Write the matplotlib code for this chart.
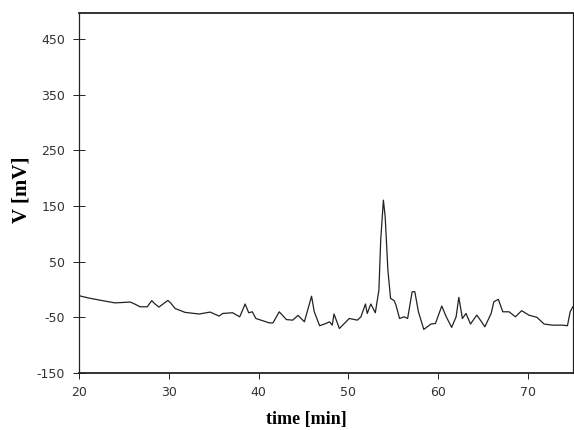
import numpy as np
import matplotlib
matplotlib.use('Agg')
import matplotlib.pyplot as plt

plt.rcParams['axes.unicode_minus'] = False

# chromatogram trace (time in min, signal in mV)
time = [20.0, 21.0, 22.3, 24.0, 25.7, 26.2, 26.8, 27.6, 28.1, 28.4, 28.9,
        29.9, 30.2, 30.7, 31.8, 33.4, 34.6, 35.6, 36.0, 37.1, 37.9, 38.5,
        38.9, 39.3, 39.7, 41.2, 41.6, 42.3, 43.1, 43.8, 44.4, 45.1, 45.9,
        46.2, 46.8, 47.5, 47.9, 48.2, 48.4, 49.0, 50.1, 51.0, 51.4, 51.9,
        52.1, 52.5, 53.0, 53.4, 53.6, 53.9, 54.1, 54.4, 54.7, 55.1, 55.3,
        55.7, 56.2, 56.6, 57.1, 57.4, 57.8, 58.4, 59.2, 59.7, 60.4, 60.9,
        61.5, 62.0, 62.3, 62.7, 63.1, 63.6, 64.3, 64.7, 65.2, 65.9, 66.2,
        66.7, 67.2, 67.9, 68.6, 69.3, 70.1, 71.0, 71.8, 72.7, 73.8, 74.4,
        74.7, 75.0]
signal = [-11, -15, -19, -24, -22.5, -26, -31, -31, -20, -25, -31.5,
          -19.5, -24, -34, -41, -44, -40.5, -47.7, -43, -41.7, -49, -26,
          -41.7, -40, -52, -60, -60, -40, -54, -55, -46.5, -58, -12,
          -40, -65, -61, -58, -64, -44, -70, -52, -55, -49, -26,
          -43, -26, -41.7, -1, 88.8, 160.6, 130.6, 35, -16, -20, -28,
          -52, -49, -52, -4, -4, -40, -71.7, -62, -61, -29.7, -49,
          -68, -49, -14, -52, -43, -62, -46, -55, -67, -43, -22,
          -17.6, -40, -40, -49, -38, -46, -50, -62, -64, -64, -65,
          -40, -31]

x_ticks = [20, 30, 40, 50, 60, 70]
y_ticks = [-150, -50, 50, 150, 250, 350, 450]

fig = plt.figure(figsize=(5.74, 4.30), dpi=100)
ax = fig.add_axes([79/574, 1 - 373/430, 1 - 79/574 - 0.002, (373 - 13)/430])

ax.plot(time, signal, color='#222222', lw=0.9)

ax.set_xlim(20, 75)
ax.set_ylim(-150, 497)
ax.set_xticks(x_ticks)
ax.set_yticks(y_ticks)
ax.tick_params(axis='x', direction='out', length=4, width=0.7, labelsize=9, pad=5,
               colors='#222222', labelcolor='#333333')
ax.tick_params(axis='y', direction='inout', length=8, width=0.7, labelsize=9, pad=6,
               colors='#222222', labelcolor='#333333')

for side, sp in ax.spines.items():
    sp.set_color('#222222')
    sp.set_linewidth(1.3 if side in ('top', 'bottom') else 0.9)

ax.set_xlabel('time [min]', family='Liberation Serif', fontweight='bold', fontsize=13,
              labelpad=9, x=0.46)
ax.set_ylabel('V [mV]', family='Liberation Serif', fontweight='bold', fontsize=15,
              labelpad=4, y=0.51)

fig.savefig('out.png', dpi=100)
